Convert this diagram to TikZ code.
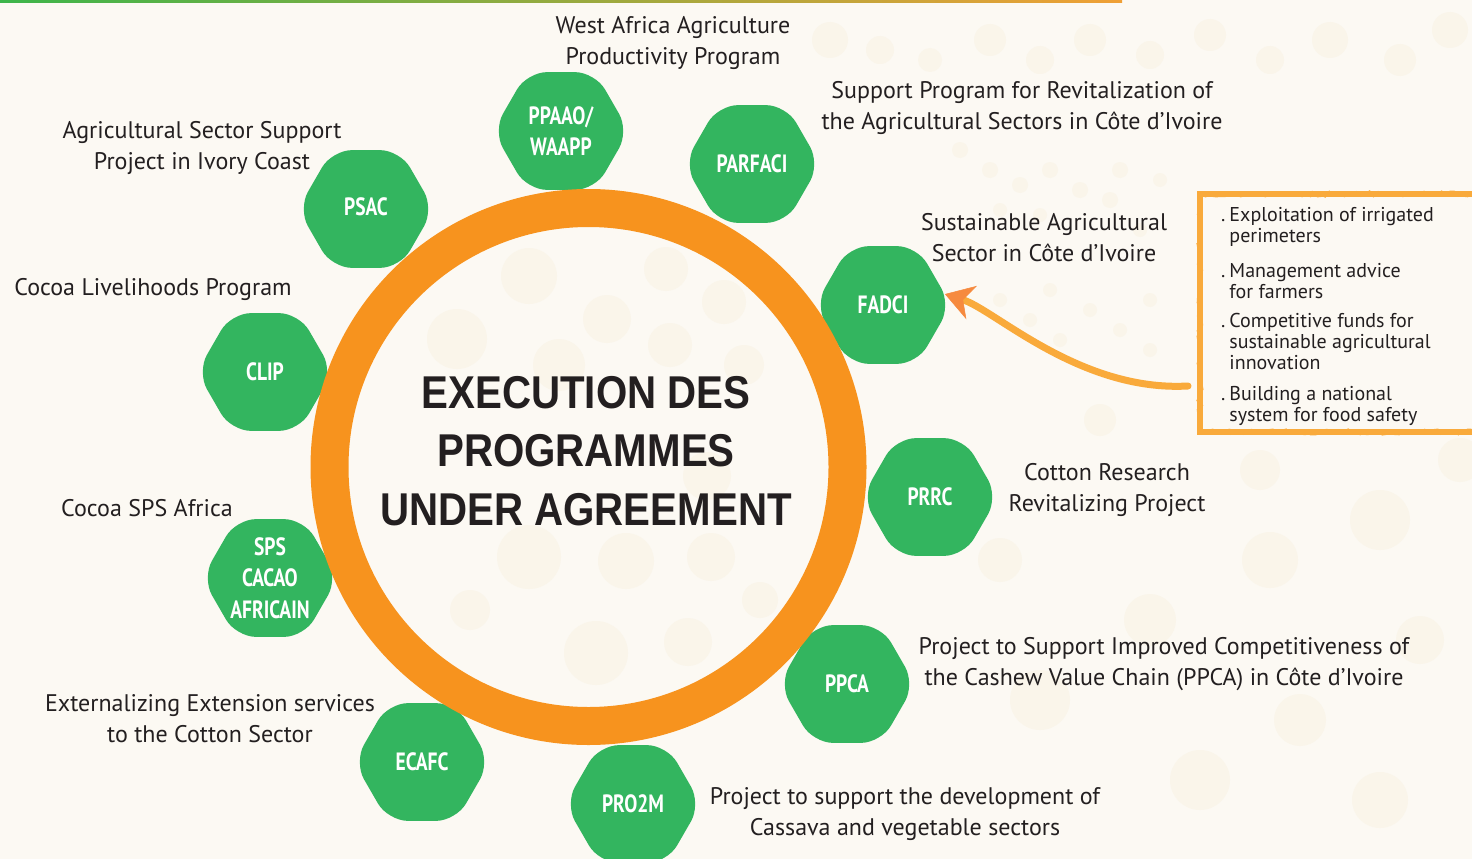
\documentclass[tikz,border=0pt]{standalone}
\usepackage{fontspec}
\setmainfont{PT Sans}
\newfontfamily\hexfont{PT Sans}[FakeStretch=0.78]
\newfontfamily\titlefont{Liberation Sans}[FakeStretch=0.875]
\usetikzlibrary{shapes.geometric,arrows.meta,decorations.pathmorphing}
\definecolor{bg}{HTML}{FCF9F3}
\definecolor{dotc}{HTML}{FAF5EA}
\definecolor{hexgreen}{HTML}{33B55F}
\definecolor{ringorange}{HTML}{F7931E}
\definecolor{ink}{HTML}{231F20}
\definecolor{boxorange}{HTML}{F9AA3B}
\definecolor{tiporange}{HTML}{F68A3F}
\definecolor{topgreen}{HTML}{3DB54A}
\definecolor{toporange}{HTML}{F0A035}
\begin{document}
\begin{tikzpicture}[x=1pt,y=-1pt,
  hex/.style={regular polygon, regular polygon sides=6, minimum size=136pt, inner sep=0pt, fill=hexgreen, rounded corners=20pt},
  hexlabel/.style={text=white, font=\hexfont\bfseries\fontsize{25}{31.5}\selectfont, align=center, inner sep=0pt},
  desc/.style={text=ink, font=\fontsize{24}{31}\selectfont, align=center, inner sep=0pt},
  boxitem/.style={text=ink, font=\fontsize{20}{21}\selectfont, anchor=base west, inner sep=0pt},
  title/.style={text=ink, font=\titlefont\bfseries\fontsize{46}{58.5}\selectfont, align=center, inner sep=0pt},
  ring/.style={circle, draw=ringorange, line width=38pt, minimum size=518pt, inner sep=0pt},
  arrowline/.style={draw=boxorange, line width=7pt, line cap=round,
    -{Stealth[length=28pt, width=35pt, inset=9pt, line width=0.5pt, color=tiporange]}},
  boxframe/.style={draw=boxorange, line width=6pt},
  bgdot/.style={fill=dotc}
]
\useasboundingbox (0,0) rectangle (1472,859);
\fill[bg] (0,0) rectangle (1472,859);
\clip (0,0) rectangle (1472,859);
\shade[left color=topgreen, right color=toporange] (0,0) rectangle (1122,2.5);

% faint background dots
\foreach \px/\py/\r in {529/276/28, 607/319/24, 666/269/22, 724/302/22, 670/345/22, 457/339/30, 559/365/26, 744/365/20,
  707/476/24, 529/557/32, 626/561/28, 711/557/24, 596/653/32, 688/642/24, 470/610/20, 760/600/18,
  1040/700/30, 1150/620/26, 1270/560/28, 1380/520/30, 1300/720/26, 1420/640/24, 1200/780/30, 1380/800/28,
  1460/460/22, 1000/560/22, 1100/420/16, 1260/470/20,
  830/40/18, 880/50/14, 930/60/12, 990/40/16, 1040/60/14, 1090/40/16, 1150/55/14, 1210/35/16, 1270/60/14, 1330/40/18, 1400/60/16, 1450/30/18,
  960/150/8, 990/170/8, 1020/185/8, 1050/170/8, 1080/190/8, 1110/200/8, 1000/210/7, 1040/215/7, 1140/230/7, 1120/170/8, 1160/180/7,
  1000/300/7, 1030/320/7, 1060/340/7, 1090/310/7, 1120/330/7, 1150/300/7, 1050/290/7, 1150/350/7}
  \fill[bgdot] (\px,\py) circle[radius=\r pt];

% hexagons
\node[hex] (ppaao) at (561,131) {};
\node[hex] (parfaci) at (752,164) {};
\node[hex] (psac) at (366,209) {};
\node[hex] (fadci) at (883,305) {};
\node[hex] (clip) at (265,372) {};
\node[hex] (prrc) at (930,497) {};
\node[hex] (sps) at (270,578) {};
\node[hex] (ppca) at (847,684) {};
\node[hex] (ecafc) at (422,762) {};
\node[hex] (pro2m) at (633,804) {};

\node[hexlabel] (ppaao-t) at (ppaao) {PPAAO/\\WAAPP};
\node[hexlabel] (parfaci-t) at (parfaci) {PARFACI};
\node[hexlabel] (psac-t) at ([yshift=2pt]psac.center) {PSAC};
\node[hexlabel] (fadci-t) at (fadci) {FADCI};
\node[hexlabel] (clip-t) at (clip) {CLIP};
\node[hexlabel] (prrc-t) at (prrc) {PRRC};
\node[hexlabel] (sps-t) at (sps) {SPS\\CACAO\\AFRICAIN};
\node[hexlabel] (ppca-t) at (ppca) {PPCA};
\node[hexlabel] (ecafc-t) at (ecafc) {ECAFC};
\node[hexlabel] (pro2m-t) at (pro2m) {PRO2M};

% ring and title
\node[ring] (ringnode) at (588.5,467) {};
\node[title] (titletext) at (586,451) {EXECUTION DES\\PROGRAMMES\\UNDER AGREEMENT};

% descriptions
\node[desc] (d-ppaao) at (673,43) {West Africa Agriculture\\Productivity Program};
\node[desc] (d-parfaci) at (1022,108) {Support Program for Revitalization of\\the Agricultural Sectors in Côte d’Ivoire};
\node[desc] (d-psac) at (202,148) {Agricultural Sector Support\\Project in Ivory Coast};
\node[desc] (d-clip) at (153,289) {Cocoa Livelihoods Program};
\node[desc] (d-fadci) at (1044,238) {Sustainable Agricultural\\Sector in Côte d’Ivoire};
\node[desc] (d-prrc) at (1107,490) {Cotton Research\\Revitalizing Project};
\node[desc] (d-sps) at (147,508) {Cocoa SPS Africa};
\node[desc] (d-ppca) at (1164,664) {Project to Support Improved Competitiveness of\\the Cashew Value Chain (PPCA) in Côte d’Ivoire};
\node[desc] (d-ecafc) at (210,719) {Externalizing Extension services\\to the Cotton Sector};
\node[desc] (d-pro2m) at (905,814) {Project to support the development of\\Cassava and vegetable sectors};

% box
\draw[boxframe] (1200,194) rectangle (1490,432);
\draw[boxorange, line width=3pt, decorate, decoration={random steps, segment length=4pt, amplitude=2pt}] (1200,194) rectangle (1490,432);
\node[boxitem] (b1) at (1221,221) {\begin{tabular}[t]{@{}l@{\hspace{4pt}}l@{}}.&Exploitation of irrigated\\&perimeters\end{tabular}};
\node[boxitem] (b2) at (1221,277) {\begin{tabular}[t]{@{}l@{\hspace{4pt}}l@{}}.&Management advice\\&for farmers\end{tabular}};
\node[boxitem] (b3) at (1221,327) {\begin{tabular}[t]{@{}l@{\hspace{4pt}}l@{}}.&Competitive funds for\\&sustainable agricultural\\&innovation\end{tabular}};
\node[boxitem] (b4) at (1221,400) {\begin{tabular}[t]{@{}l@{\hspace{4pt}}l@{}}.&Building a national\\&system for food safety\end{tabular}};

% arrow
\coordinate (arrowstart) at (1188,386);
\draw[arrowline] (arrowstart) .. controls (1080,392) and (995,310) .. (fadci.10);
\end{tikzpicture}
\end{document}
